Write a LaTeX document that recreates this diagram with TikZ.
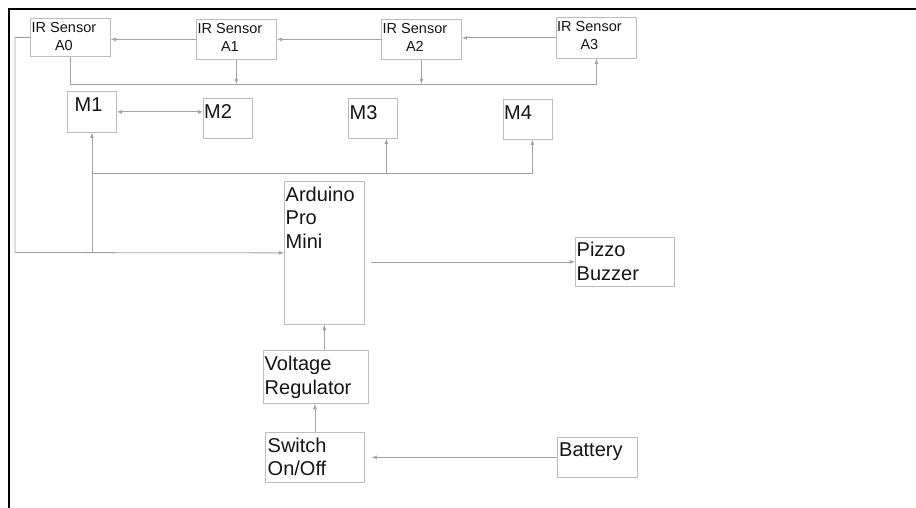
\documentclass[tikz,border=0pt]{standalone}
\usepackage{fontspec}
\setmainfont{Liberation Sans}
\usepackage{tikz}

\definecolor{boxgray}{HTML}{BDBDBD}
\definecolor{linegray}{HTML}{A3A3A3}
\definecolor{txtgray}{HTML}{141414}

\tikzset{
  box/.style={draw=boxgray, line width=0.8pt, inner sep=0pt, anchor=north west},
  conn/.style={draw=linegray, line width=0.8pt, ->},
  frame/.style={draw=black, line width=1.8pt},
  biglbl/.style={inner sep=0pt, anchor=north west, align=left, text=txtgray,
    font=\fontsize{20}{23.5}\selectfont},
  irlbl/.style={inner sep=0pt, anchor=north west, align=center, text=txtgray,
    font=\fontsize{14.5}{18.5}\selectfont},
}

\begin{document}
\begin{tikzpicture}[x=1pt,y=-1pt,>=latex]
    \useasboundingbox (0,0) rectangle (916,508);
    \draw[frame] (916,9) -| (9,508);

    % sensors
    \node[box, minimum width=80, minimum height=38] (a0) at (30,18) {};
    \node[box, minimum width=80, minimum height=40] (a1) at (196,19) {};
    \node[box, minimum width=80, minimum height=40] (a2) at (381,19) {};
    \node[box, minimum width=80, minimum height=41] (a3) at (556,17) {};
    \node[irlbl] (a0t) at ([shift={(1.5,4)}]a0.north west) {IR Sensor\\A0};
    \node[irlbl] (a1t) at ([shift={(1.5,4)}]a1.north west) {IR Sensor\\A1};
    \node[irlbl] (a2t) at ([shift={(1.5,4)}]a2.north west) {IR Sensor\\A2};
    \node[irlbl] (a3t) at ([shift={(1,4)}]a3.north west) {IR Sensor\\A3};

    % motors
    \node[box, minimum width=49, minimum height=41] (m1) at (67,91) {};
    \node[box, minimum width=49, minimum height=40] (m2) at (203,98) {};
    \node[box, minimum width=49, minimum height=40] (m3) at (348,98) {};
    \node[box, minimum width=49, minimum height=40] (m4) at (503,99) {};
    \node[biglbl] (m1t) at ([shift={(7.5,6.5)}]m1.north west) {M1};
    \node[biglbl] (m2t) at ([shift={(1,6.5)}]m2.north west) {M2};
    \node[biglbl] (m3t) at ([shift={(1.5,7.5)}]m3.north west) {M3};
    \node[biglbl] (m4t) at ([shift={(1,6.5)}]m4.north west) {M4};

    % controller, buzzer and power
    \node[box, minimum width=80, minimum height=143] (ard) at (284,181) {};
    \node[box, minimum width=99, minimum height=49] (pz) at (575,237) {};
    \node[box, minimum width=105, minimum height=53] (vr) at (263,350) {};
    \node[box, minimum width=99, minimum height=50] (sw) at (265,432) {};
    \node[box, minimum width=80, minimum height=40] (bat) at (557,437) {};
    \node[biglbl] (ardt) at ([shift={(1.5,5.5)}]ard.north west) {Arduino\\Pro\\Mini};
    \node[biglbl] (pzt) at ([shift={(1.5,5)}]pz.north west) {Pizzo\\Buzzer};
    \node[biglbl] (vrt) at ([shift={(1.5,6)}]vr.north west) {Voltage\\Regulator};
    \node[biglbl] (swt) at ([shift={(2.5,5.5)}]sw.north west) {Switch\\On/Off};
    \node[biglbl] (batt) at ([shift={(2,5.5)}]bat.north west) {Battery};

    % sensor chain and bus
    \draw[conn] (a1.west) -- (a1.west -| a0.east);
    \draw[conn] (a2.west) -- (a2.west -| a1.east);
    \draw[conn] (a3.west) -- (a3.west -| a2.east);
    \coordinate (sbus) at (70,84);
    \draw[conn] (a0.south) |- (sbus -| a3.south) -- (a3.south);
    \draw[conn] (a1.south) -- (a1.south |- sbus);
    \draw[conn] (a2.south) -- (a2.south |- sbus);

    % motor lines
    \draw[conn,<->] (m1.east) -- (m1.east -| m2.west);
    \coordinate (mbus) at (91.5,173);
    \draw[conn] (mbus) -| ([xshift=4.5]m4.south);
    \draw[conn] ([xshift=13.5]m3.south |- mbus) -- ([xshift=13.5]m3.south);
    \coordinate (lfeed) at (15,252.5);
    \draw[conn] (a0.west) -| (lfeed) -- (ard.west);
    \draw[conn] (lfeed -| m1.south) -- (m1.south);

    % output and power
    \draw[conn] ([xshift=6]ard.east |- pz.west) -- (pz.west);
    \draw[conn] (vr.north -| ard.south) -- (ard.south);
    \draw[conn] (sw.north) -- (sw.north |- vr.south);
    \draw[conn] (bat.west) -- ([xshift=7]sw.east);
  \end{tikzpicture}
\end{document}
